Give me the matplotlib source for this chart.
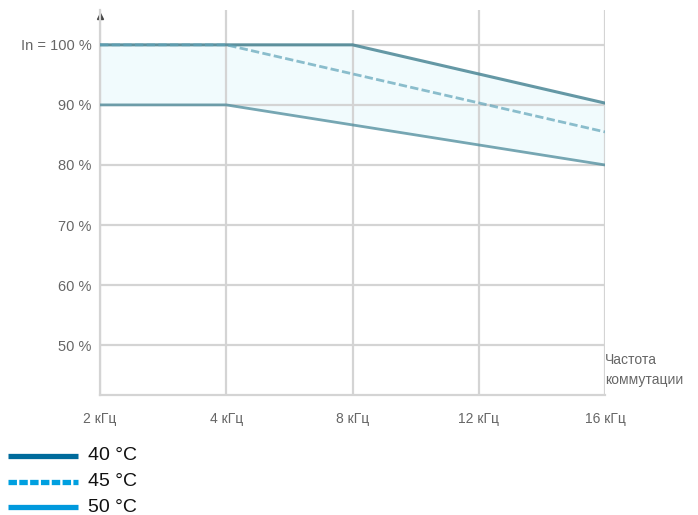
import matplotlib
matplotlib.use("Agg")
import matplotlib.pyplot as plt
from matplotlib.lines import Line2D

plt.rcParams["font.family"] = ["Liberation Sans", "DejaVu Sans"]

# x positions are category slots (switching frequency)
x_labels = ["2 кГц", "4 кГц", "8 кГц", "12 кГц", "16 кГц"]
x_pos = [0, 1, 2, 3, 4]

y_ticks = [100, 90, 80, 70, 60, 50]
y_labels = ["In = 100 %", "90 %", "80 %", "70 %", "60 %", "50 %"]

# derating curves, % of In
t40_x = [0, 2, 4]
t40_y = [100, 100, 90.3]
t45_x = [0, 1, 4]
t45_y = [100, 100, 85.5]
t50_x = [0, 1, 4]
t50_y = [90, 90, 80]

legend_labels = ["40 °C", "45 °C", "50 °C"]

c40 = "#006b9c"
c45 = "#00a0e0"
c50 = "#0099dd"
grid_c = "#d4d4d4"
txt_c = "#666666"

fig = plt.figure(figsize=(6.98, 5.15), dpi=100)
ax = fig.add_axes([100 / 698, 1 - 395 / 515, 505 / 698, 385 / 515])

ax.set_xlim(0, 4)
ax.set_ylim(41.7, 105.8)

# faint tint between the outer curves
ax.fill_between([0, 1, 2, 4], [100, 100, 100, 90.3], [90, 90, 86.7, 80],
                color="#e6f9fc", alpha=0.55, lw=0, zorder=1)

ax.plot(t40_x, t40_y, color="#3f7f8f", lw=2.2, alpha=0.8, zorder=3)
ax.plot(t45_x, t45_y, color="#5fa3b8", lw=2.0, alpha=0.7, ls=(0, (3, 1.2)), zorder=3)
ax.plot(t50_x, t50_y, color="#4b8a9a", lw=2.0, alpha=0.75, zorder=3)

ax.set_xticks(x_pos)
ax.set_xticklabels(x_labels)
ax.set_yticks(y_ticks)
ax.set_yticklabels(y_labels)
ax.tick_params(length=0, colors=txt_c)
ax.tick_params(axis="x", pad=12, labelsize=10)
ax.tick_params(axis="y", pad=6, labelsize=10.5)
ax.grid(True, color=grid_c, lw=1.6, zorder=0)

for s in ["top", "right"]:
    ax.spines[s].set_visible(False)
for s in ["left", "bottom"]:
    ax.spines[s].set_color(grid_c)
    ax.spines[s].set_linewidth(1.6)

# arrow head on y axis
ax.plot([0], [0.985], marker="^", ms=4, color="#444444", transform=ax.transAxes,
        clip_on=False)

fig.text(605 / 698, 1 - 370 / 515, "Частота\nкоммутации", fontsize=10,
         color=txt_c, ha="left", va="center", linespacing=1.6)

# legend drawn below the plot area
handles = [
    dict(color=c40, ls="-"),
    dict(color=c45, ls=(0, (1.6, 0.45))),
    dict(color=c50, ls="-"),
]
rows_y = [456, 482, 507]
for h, lab, yy in zip(handles, legend_labels, rows_y):
    yf = 1 - yy / 515
    fig.add_artist(Line2D([8 / 698, 78 / 698], [yf, yf], lw=3.8,
                          color=h["color"], ls=h["ls"], solid_capstyle="butt",
                          dash_capstyle="butt"))
    fig.text(88 / 698, yf, lab, fontsize=14, color="#111111",
             ha="left", va="center")

fig.savefig("out.png", dpi=100)
